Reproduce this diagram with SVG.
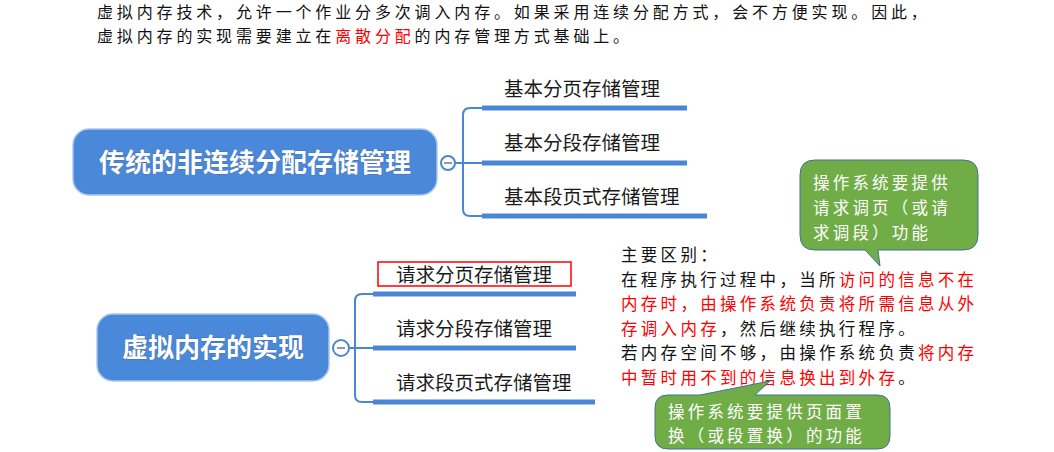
<svg xmlns="http://www.w3.org/2000/svg" width="1054" height="452" viewBox="0 0 1054 452">
<style>
.body{font-family:"Noto Sans CJK SC","Liberation Sans",sans-serif;font-size:16px;letter-spacing:3.85px;fill:#111}
.red{fill:#ff0000}
.node rect{fill:#4a88da;stroke:#a9c6ef;stroke-width:1.5}
.ntext{font-family:"Noto Sans CJK SC","Liberation Sans",sans-serif;font-size:26px;font-weight:bold;fill:#fff;text-anchor:middle;stroke:#3a5f99;stroke-width:0.6;paint-order:stroke}
.lbl{font-family:"Noto Sans CJK SC","Liberation Sans",sans-serif;font-size:19.5px;fill:#1a1a1a}
.ul{stroke:#4a86d6;stroke-width:5;fill:none}
.trunk{stroke:#4a86d6;stroke-width:2;fill:none}
.tog{fill:#fff;stroke:#4a86d6;stroke-width:2}
.minus{stroke:#8a9bb0;stroke-width:2}
.call{fill:#70ad47;stroke:#41719c;stroke-width:1}
.ctext{font-family:"Noto Sans CJK SC","Liberation Sans",sans-serif;font-size:16.5px;letter-spacing:3.2px;fill:#fff}
.main{font-family:"Noto Sans CJK SC","Liberation Sans",sans-serif;font-size:16.5px;letter-spacing:3.3px;fill:#111}
</style>

<g id="intro">
<text class="body" x="97" y="18.2">虚拟内存技术，允许一个作业分多次调入内存。如果采用连续分配方式，会不方便实现。因此，</text>
<text class="body" x="97" y="41.8">虚拟内存的实现需要建立在<tspan class="red">离散分配</tspan>的内存管理方式基础上。</text>
</g>

<g id="node-traditional" class="node">
<rect x="73" y="129" width="364" height="66" rx="16"/>
<text class="ntext" x="255" y="172">传统的非连续分配存储管理</text>
</g>

<g id="node-virtual" class="node">
<rect x="97" y="314" width="232" height="67" rx="16"/>
<text class="ntext" x="213" y="357">虚拟内存的实现</text>
</g>

<g id="connectors">
<path class="trunk" d="M455,163 H482 M482,108 H470 Q463,108 463,115 V209 Q463,216 470,216 H482"/>
<path class="trunk" d="M349,348 H373 M373,294 H362 Q355,294 355,301 V395 Q355,402 362,402 H373"/>
<line class="ul" x1="482" y1="108" x2="687" y2="108"/>
<line class="ul" x1="482" y1="163" x2="687" y2="163"/>
<line class="ul" x1="482" y1="216" x2="707" y2="216"/>
<line class="ul" x1="373" y1="294" x2="576" y2="294"/>
<line class="ul" x1="373" y1="348" x2="576" y2="348"/>
<line class="ul" x1="373" y1="402" x2="595" y2="402"/>
<circle class="tog" cx="448" cy="163" r="7"/>
<line class="minus" x1="444" y1="163" x2="452" y2="163"/>
<circle class="tog" cx="341" cy="348" r="8"/>
<line class="minus" x1="337" y1="348" x2="345" y2="348"/>
</g>

<g id="leaf-basic-page"><text class="lbl" x="504" y="96">基本分页存储管理</text></g>
<g id="leaf-basic-seg"><text class="lbl" x="504" y="150">基本分段存储管理</text></g>
<g id="leaf-basic-segpage"><text class="lbl" x="504" y="204">基本段页式存储管理</text></g>

<g id="leaf-req-page">
<rect x="378" y="262" width="193" height="24" fill="none" stroke="#ff0000" stroke-width="1.5"/>
<text class="lbl" x="396" y="282">请求分页存储管理</text>
</g>
<g id="leaf-req-seg"><text class="lbl" x="396" y="336">请求分段存储管理</text></g>
<g id="leaf-req-segpage"><text class="lbl" x="396" y="390">请求段页式存储管理</text></g>

<g id="diff-text" class="main">
<text x="621" y="261">主要区别：</text>
<text x="621" y="286">在程序执行过程中，当所<tspan class="red">访问的信息不在</tspan></text>
<text x="621" y="310" class="red">内存时，由操作系统负责将所需信息从外</text>
<text x="621" y="335"><tspan class="red">存调入内存</tspan>，然后继续执行程序。</text>
<text x="621" y="359">若内存空间不够，由操作系统负责<tspan class="red">将内存</tspan></text>
<text x="621" y="384"><tspan class="red">中暂时用不到的信息换出到外存</tspan>。</text>
</g>

<g id="callout-paging">
<path class="call" d="M815,160 H963 Q978,160 978,175 V235 Q978,250 963,250 H878 L880,266 L865,250 H815 Q800,250 800,235 V175 Q800,160 815,160 Z"/>
<text class="ctext" x="813" y="189">操作系统要提供</text>
<text class="ctext" x="813" y="214">请求调页（或请</text>
<text class="ctext" x="813" y="239">求调段）功能</text>
</g>

<g id="callout-replace">
<path class="call" d="M668,395 H700 L770,381 L755,395 H877 Q890,395 890,408 V436 Q890,449 877,449 H668 Q655,449 655,436 V408 Q655,395 668,395 Z"/>
<text class="ctext" x="668" y="418">操作系统要提供页面置</text>
<text class="ctext" x="668" y="442">换（或段置换）的功能</text>
</g>
</svg>
